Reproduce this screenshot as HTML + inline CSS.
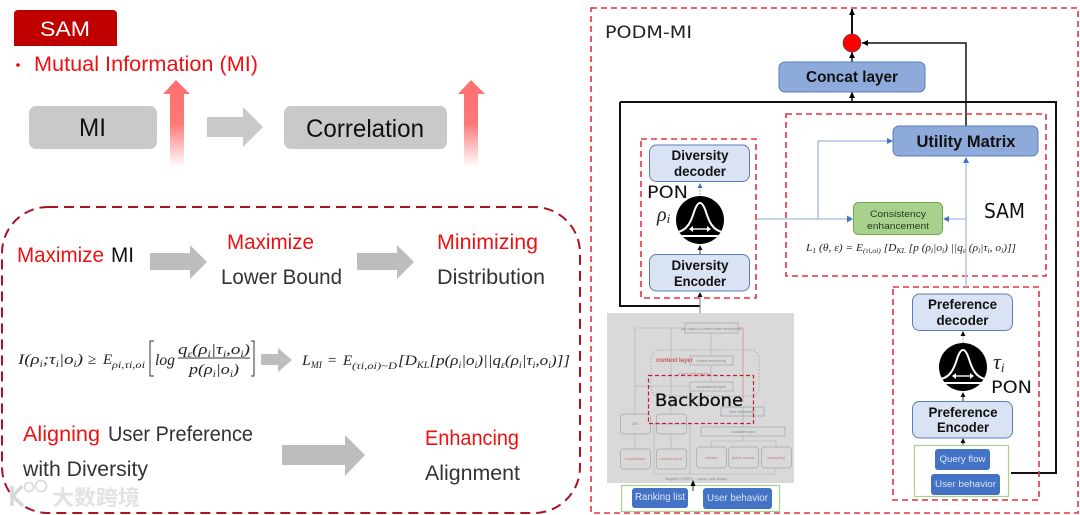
<!DOCTYPE html>
<html><head><meta charset="utf-8"><style>
html,body{margin:0;padding:0;background:#fff}
svg{display:block;filter:blur(.35px)}
text{font-family:"Liberation Sans",sans-serif}
.m{font-family:"Liberation Serif",serif;font-style:italic;fill:#222}
.w{font-family:"DejaVu Sans",sans-serif}
.b{font-weight:bold;fill:#111;text-anchor:middle}
.s{font-size:3.5px;fill:#888;text-anchor:middle}
.r{font-size:3.5px;fill:#c77;text-anchor:middle}
.g{fill:none;stroke:#a5a5a5;stroke-width:.7}
.gl{fill:none;stroke:#adadad;stroke-width:.6}
</style></head><body>
<svg width="1080" height="515" viewBox="0 0 1080 515" xmlns="http://www.w3.org/2000/svg">
<defs>
<linearGradient id="up" x1="0" y1="0" x2="0" y2="1"><stop offset="0" stop-color="#ff7070"/><stop offset=".5" stop-color="#ff7878"/><stop offset="1" stop-color="#fff"/></linearGradient>
<marker id="ak" markerUnits="userSpaceOnUse" markerWidth="7" markerHeight="7" refX="6" refY="3" orient="auto"><path d="M0 0L6 3L0 6z" fill="#000"/></marker>
<clipPath id="cc"><circle r="24"/></clipPath>
<g id="bell"><circle r="24" fill="#000"/><g clip-path="url(#cc)"><path d="M-22 12C-13 10-9 2-6-8C-4-14-2-17 0-17C2-17 4-14 6-8C9 2 13 10 22 12" fill="none" stroke="#fff" stroke-width="2"/><path d="M-24 16H24" stroke="#fff" stroke-width="2"/></g><path d="M-8 9H8" stroke="#fff" stroke-width="1.4"/><path d="M-11 9l4-3v6zM11 9l-4-3v6z" fill="#fff"/></g>
</defs>
<rect width="1080" height="515" fill="#fff"/>

<!-- LEFT -->
<path d="M14 46V14a4 4 0 0 1 4-4H113a4 4 0 0 1 4 4V46z" fill="#c00000"/>
<text x="40" y="36" font-size="21" fill="#fff" textLength="50" lengthAdjust="spacingAndGlyphs">SAM</text>
<circle cx="18" cy="65" r="1.8" fill="#f00000"/>
<text x="34" y="71" font-size="21" fill="#ee1111" textLength="224" lengthAdjust="spacingAndGlyphs">Mutual Information (MI)</text>
<rect x="29" y="106" width="128" height="43" rx="7" fill="#c9c9c9"/>
<text x="79" y="136" font-size="25" fill="#111" textLength="27" lengthAdjust="spacingAndGlyphs">MI</text>
<rect x="284" y="106" width="163" height="43" rx="7" fill="#c9c9c9"/>
<text x="306" y="137" font-size="25" fill="#111" textLength="118" lengthAdjust="spacingAndGlyphs">Correlation</text>
<path d="M207 117H243V107L263 127L243 147V137H207z" fill="#c9c9c9"/>
<path d="M176 80L190 94H184V167H170V94H163z" fill="url(#up)"/>
<path d="M471 80L485 94H478V167H464V94H458z" fill="url(#up)"/>

<path d="M48 207H534A46 46 0 0 1 580 253V467A46 46 0 0 1 534 513H48A46 46 0 0 1 2 467V253A46 46 0 0 1 48 207Z" fill="none" stroke="#a8141f" stroke-width="2" stroke-dasharray="10 6" stroke-linecap="butt"/>

<text x="17" y="262" font-size="21" fill="#ee1111" textLength="87" lengthAdjust="spacingAndGlyphs">Maximize</text>
<text x="111" y="262" font-size="21" fill="#111" textLength="23" lengthAdjust="spacingAndGlyphs">MI</text>
<path d="M150 253H190V245L207 262L190 279V270H150z" fill="#bdbdbd"/>
<text x="227" y="249" font-size="21" fill="#ee1111" textLength="87" lengthAdjust="spacingAndGlyphs">Maximize</text>
<text x="221" y="284" font-size="21" fill="#333" textLength="121" lengthAdjust="spacingAndGlyphs">Lower Bound</text>
<path d="M357 253H397V245L414 262L397 279V270H357z" fill="#bdbdbd"/>
<text x="437" y="249" font-size="21" fill="#ee1111" textLength="101" lengthAdjust="spacingAndGlyphs">Minimizing</text>
<text x="437" y="284" font-size="21" fill="#333" textLength="108" lengthAdjust="spacingAndGlyphs">Distribution</text>

<!-- formula 1 -->
<text class="m" x="18" y="364" font-size="15" textLength="65" lengthAdjust="spacingAndGlyphs">I(ρ<tspan font-size="9" dy="3">i</tspan><tspan dy="-3">;τ</tspan><tspan font-size="9" dy="3">i</tspan><tspan dy="-3">|o</tspan><tspan font-size="9" dy="3">i</tspan><tspan dy="-3">)</tspan></text>
<text class="m" x="88" y="364" font-size="15" style="font-style:normal">≥</text>
<text class="m" x="103" y="364" font-size="15">E</text>
<text class="m" x="112" y="368" font-size="9" textLength="33" lengthAdjust="spacingAndGlyphs">ρi,τi,oi</text>
<path d="M154 341H150V376H154M251 341H254V376H251" fill="none" stroke="#333" stroke-width="1"/>
<text class="m" x="155" y="365" font-size="15.500" textLength="20" lengthAdjust="spacingAndGlyphs">log</text>
<text class="m" x="178" y="354" font-size="14.500" textLength="72" lengthAdjust="spacingAndGlyphs">q<tspan font-size="9" dy="3">ε</tspan><tspan dy="-3">(ρ</tspan><tspan font-size="9" dy="3">i</tspan><tspan dy="-3">|τ</tspan><tspan font-size="9" dy="3">i</tspan><tspan dy="-3">,o</tspan><tspan font-size="9" dy="3">i</tspan><tspan dy="-3">)</tspan></text>
<path d="M178 358H250" stroke="#333" stroke-width=".9"/>
<text class="m" x="189" y="374" font-size="14.500" textLength="50" lengthAdjust="spacingAndGlyphs">p(ρ<tspan font-size="9" dy="3">i</tspan><tspan dy="-3">|o</tspan><tspan font-size="9" dy="3">i</tspan><tspan dy="-3">)</tspan></text>
<path d="M261 354H278V348L292 360L278 372V365H261z" fill="#bdbdbd"/>
<!-- formula 2 -->
<text class="m" x="302" y="365" font-size="15" textLength="20" lengthAdjust="spacingAndGlyphs">L<tspan font-size="9" dy="3">MI</tspan></text>
<text class="m" x="328" y="365" font-size="15" style="font-style:normal">=</text>
<text class="m" x="343" y="365" font-size="15">E</text>
<text class="m" x="352" y="369" font-size="9" textLength="45" lengthAdjust="spacingAndGlyphs">(τi,oi)~D</text>
<text class="m" x="398" y="365" font-size="15" textLength="172" lengthAdjust="spacingAndGlyphs">[D<tspan font-size="9" dy="3">KL</tspan><tspan dy="-3">[p(ρ</tspan><tspan font-size="9" dy="3">i</tspan><tspan dy="-3">|o</tspan><tspan font-size="9" dy="3">i</tspan><tspan dy="-3">)||q</tspan><tspan font-size="9" dy="3">ε</tspan><tspan dy="-3">(ρ</tspan><tspan font-size="9" dy="3">i</tspan><tspan dy="-3">|τ</tspan><tspan font-size="9" dy="3">i</tspan><tspan dy="-3">,o</tspan><tspan font-size="9" dy="3">i</tspan><tspan dy="-3">)]]</tspan></text>

<text x="23" y="441" font-size="21" fill="#ee1111" textLength="77" lengthAdjust="spacingAndGlyphs">Aligning</text>
<text x="108" y="441" font-size="21" fill="#333" textLength="145" lengthAdjust="spacingAndGlyphs">User Preference</text>
<text x="23" y="476" font-size="21" fill="#333" textLength="125" lengthAdjust="spacingAndGlyphs">with Diversity</text>
<path d="M282 445H345V435L365 455L345 476V465H282z" fill="#bdbdbd"/>
<text x="425" y="445" font-size="21" fill="#ee1111" textLength="94" lengthAdjust="spacingAndGlyphs">Enhancing</text>
<text x="425" y="480" font-size="21" fill="#333" textLength="95" lengthAdjust="spacingAndGlyphs">Alignment</text>

<!-- watermark -->
<g>
<path d="M12 486V506M13 496L22 486M14 497L23 506" fill="none" stroke="#d8d8d8" stroke-width="3.500"/>
<circle cx="29" cy="487" r="4.500" fill="none" stroke="#d8d8d8" stroke-width="1.600"/>
<circle cx="41" cy="486" r="5.500" fill="none" stroke="#d8d8d8" stroke-width="1.600"/>
<text x="52" y="505" font-size="21" fill="#e2e2e2" font-weight="bold" style="font-family:'Liberation Sans','Noto Sans CJK SC',sans-serif" textLength="88" lengthAdjust="spacingAndGlyphs">大数跨境</text>
</g>

<!-- RIGHT -->
<rect x="591" y="8" width="487" height="505" fill="none" stroke="#e5323c" stroke-width="1.600" stroke-dasharray="6 4"/>
<text class="w" x="605" y="38" font-size="17" fill="#222" textLength="87" lengthAdjust="spacingAndGlyphs">PODM-MI</text>

<path d="M620 102V306H700" fill="none" stroke="#111" stroke-width="2"/>
<path d="M620 102H1056V473H1011" fill="none" stroke="#111" stroke-width="2"/>
<path d="M852 102V92" stroke="#111" stroke-width="1.500" marker-end="url(#ak)"/>
<path d="M852 62V52" stroke="#111" stroke-width="1.500" marker-end="url(#ak)"/>
<path d="M852 34V9" stroke="#111" stroke-width="2" marker-end="url(#ak)"/>
<path d="M966 127V43H862" fill="none" stroke="#111" stroke-width="1.500" marker-end="url(#ak)"/>
<circle cx="852" cy="43" r="9" fill="#f00" stroke="#555" stroke-width=".8"/>

<rect x="779" y="62" width="146" height="30" rx="6" fill="#8eaadb" stroke="#5b7db5" stroke-width="1"/>
<text class="b" x="852" y="82" font-size="16" textLength="92" lengthAdjust="spacingAndGlyphs">Concat layer</text>

<rect x="786" y="114" width="260" height="162" fill="none" stroke="#e5323c" stroke-width="1.600" stroke-dasharray="6 4"/>
<rect x="641" y="139" width="115" height="159" fill="none" stroke="#e5323c" stroke-width="1.600" stroke-dasharray="6 4"/>
<rect x="893" y="287" width="146" height="213" fill="none" stroke="#e5323c" stroke-width="1.600" stroke-dasharray="6 4"/>

<!-- blue lines -->
<path d="M757 219H848" stroke="#b4c9e8" stroke-width="1.600"/><path d="M853 219l-6-3.500v7z" fill="#4472c4"/>
<path d="M818 219V141H888" fill="none" stroke="#7da0d6" stroke-width="1"/><path d="M893 141l-6-3v6z" fill="#4472c4"/>
<path d="M966 287V162" stroke="#b4c9e8" stroke-width="1.600"/><path d="M966 157l-3 6h6z" fill="#4472c4"/>
<path d="M966 219H948" stroke="#b4c9e8" stroke-width="1.600"/><path d="M943 219l6-3v6z" fill="#4472c4"/>

<rect x="893" y="126" width="145" height="30" rx="6" fill="#8eaadb" stroke="#5b7db5" stroke-width="1"/>
<text class="b" x="966" y="147" font-size="17" textLength="99" lengthAdjust="spacingAndGlyphs">Utility Matrix</text>
<rect x="853.500" y="202.500" width="89" height="32" rx="5" fill="#a9d18e" stroke="#70ad47" stroke-width="1"/>
<text x="898" y="217" font-size="9.500" fill="#1f3a1f" text-anchor="middle" textLength="56" lengthAdjust="spacingAndGlyphs">Consistency</text>
<text x="898" y="229" font-size="9.500" fill="#1f3a1f" text-anchor="middle" textLength="62" lengthAdjust="spacingAndGlyphs">enhancement</text>
<text class="m" x="806" y="251" font-size="10.500" textLength="210" lengthAdjust="spacingAndGlyphs">L<tspan font-size="7" dy="2">1</tspan><tspan dy="-2"> (θ, ε) = E</tspan><tspan font-size="7" dy="2">(τi,oi)</tspan><tspan dy="-2"> [D</tspan><tspan font-size="7" dy="2">KL</tspan><tspan dy="-2"> [p (ρ</tspan><tspan font-size="7" dy="2">i</tspan><tspan dy="-2">|o</tspan><tspan font-size="7" dy="2">i</tspan><tspan dy="-2">) ||q</tspan><tspan font-size="7" dy="2">ε</tspan><tspan dy="-2"> (ρ</tspan><tspan font-size="7" dy="2">i</tspan><tspan dy="-2">|τ</tspan><tspan font-size="7" dy="2">i</tspan><tspan dy="-2">, o</tspan><tspan font-size="7" dy="2">i</tspan><tspan dy="-2">)]]</tspan></text>
<text class="w" x="984" y="218" font-size="20" fill="#111" textLength="41" lengthAdjust="spacingAndGlyphs">SAM</text>

<!-- diversity -->
<rect x="649.500" y="145" width="100" height="36.500" rx="7" fill="#dae3f3" stroke="#5b7db5" stroke-width="1"/>
<text class="b" x="700" y="160" font-size="14" textLength="57" lengthAdjust="spacingAndGlyphs">Diversity</text>
<text class="b" x="700" y="176" font-size="14" textLength="52" lengthAdjust="spacingAndGlyphs">decoder</text>
<rect x="649.500" y="254.500" width="100" height="36.500" rx="7" fill="#dae3f3" stroke="#5b7db5" stroke-width="1"/>
<text class="b" x="700" y="270" font-size="14" textLength="57" lengthAdjust="spacingAndGlyphs">Diversity</text>
<text class="b" x="700" y="286" font-size="14" textLength="52" lengthAdjust="spacingAndGlyphs">Encoder</text>
<path d="M700 195V187" stroke="#aaa" stroke-width="1" stroke-dasharray="2 1"/><path d="M700 183l-2.500 5h5z" fill="#4472c4"/>
<path d="M700 254V249" stroke="#333"/><path d="M700 245l-2.500 5h5z" fill="#111"/>
<path d="M700 313V298" stroke="#777"/><path d="M700 292l-2.500 5h5z" fill="#111"/>
<use href="#bell" x="700" y="220"/>
<text class="w" x="647" y="198" font-size="16.500" fill="#111" textLength="41" lengthAdjust="spacingAndGlyphs">PON</text>
<text class="m" x="657" y="221" font-size="20" fill="#111">ρ<tspan font-size="13" dy="2">i</tspan></text>

<!-- preference -->
<rect x="912.500" y="294" width="100" height="36.500" rx="7" fill="#dae3f3" stroke="#5b7db5" stroke-width="1"/>
<text class="b" x="962.500" y="309" font-size="14" textLength="69" lengthAdjust="spacingAndGlyphs">Preference</text>
<text class="b" x="962.500" y="325" font-size="14" textLength="52" lengthAdjust="spacingAndGlyphs">decoder</text>
<rect x="912.500" y="401.500" width="100" height="36.500" rx="7" fill="#dae3f3" stroke="#5b7db5" stroke-width="1"/>
<text class="b" x="963" y="417" font-size="14" textLength="69" lengthAdjust="spacingAndGlyphs">Preference</text>
<text class="b" x="963" y="432" font-size="14" textLength="52" lengthAdjust="spacingAndGlyphs">Encoder</text>
<path d="M963 343V336" stroke="#aaa" stroke-width="1" stroke-dasharray="2 1"/><path d="M963 331l-2.500 5h5z" fill="#111"/>
<path d="M963 401V396" stroke="#333"/><path d="M963 392l-2.500 5h5z" fill="#111"/>
<path d="M963 445V442" stroke="#333"/><path d="M963 438l-2.500 5h5z" fill="#111"/>
<use href="#bell" x="963" y="367"/>
<text class="m" x="993" y="369" font-size="22" fill="#111">τ<tspan font-size="13" dy="3">i</tspan></text>
<text class="w" x="991" y="393" font-size="16.500" fill="#111" textLength="41" lengthAdjust="spacingAndGlyphs">PON</text>

<rect x="914.500" y="445.500" width="94" height="51" fill="#fff" stroke="#a9d18e" stroke-width="1.200"/>
<rect x="935" y="449" width="55" height="21" rx="3" fill="#4472c4"/>
<text x="962.500" y="462" font-size="9.500" fill="#dbe6f7" text-anchor="middle" textLength="46" lengthAdjust="spacingAndGlyphs">Query flow</text>
<rect x="931" y="474" width="69" height="21" rx="3" fill="#4472c4"/>
<text x="965.500" y="487" font-size="9.500" fill="#dbe6f7" text-anchor="middle" textLength="61" lengthAdjust="spacingAndGlyphs">User behavior</text>

<!-- backbone panel -->
<rect x="607" y="313" width="187" height="170" fill="#d9d9d9"/>
<path d="M635 414V328H685M671 414V328M635 386H690M635 449V434M671 449V434M711 333V356M711 365V382M743 407V427M711 447V441H776V447M743 441V436M654 474V424H690M654 474H775V468M690 424V474" class="gl"/>
<rect x="685" y="323" width="53" height="10" class="g"/><text class="s" x="711" y="330">pre-output &amp; context token embedding</text>
<rect x="651" y="350" width="108" height="46" rx="8" fill="none" stroke="#a5a5a5" stroke-width=".7" stroke-dasharray="2 1.500"/>
<text x="656" y="362" font-size="6" fill="#c45a5a" font-weight="bold">context layer</text>
<rect x="690" y="356" width="43" height="9" class="g"/><text class="s" x="711" y="362">context embedding</text>
<text class="r" x="694" y="375">n-layer Self-attention</text>
<rect x="690" y="382" width="43" height="9" class="g"/><text class="s" x="711" y="388">candidate list input</text>
<rect x="721" y="407" width="43" height="9" fill="none" stroke="#8fa3b8" stroke-width=".7"/><text class="s" x="742" y="413">item embedding</text>
<rect x="701" y="427" width="84" height="9" class="g"/><text class="s" x="743" y="433">candidate input</text>
<rect x="620.500" y="414" width="30" height="20" rx="3" class="g"/><text class="r" x="635" y="425">DIN</text>
<rect x="656.500" y="414" width="30" height="20" rx="3" class="g"/>
<rect x="620.500" y="449" width="30" height="20" rx="3" class="g"/><text class="r" x="635" y="460">hoodDiehave</text>
<rect x="656.500" y="449" width="30" height="20" rx="3" class="g"/><text class="r" x="671" y="460">common behav</text>
<rect x="696.500" y="447" width="30" height="21" rx="3" class="g"/><text class="r" x="711" y="459">numeric</text>
<rect x="728.500" y="447" width="30" height="21" rx="3" class="g"/><text class="r" x="743" y="459">global numeric</text>
<rect x="761.500" y="447" width="30" height="21" rx="3" class="g"/><text class="r" x="776" y="459">embedding</text>
<path d="M738 328H743V402" fill="none" stroke="#d98a8a" stroke-width=".8"/>
<text class="s" x="696" y="480">Target(H,0,P,REF) ... query, rank display</text>
<rect x="648.500" y="375.500" width="105" height="48" fill="none" stroke="#c0202c" stroke-width="1.200" stroke-dasharray="4 2.500"/>
<text class="w" x="655" y="406" font-size="16.500" fill="#111" stroke="#111" stroke-width=".3" textLength="88" lengthAdjust="spacingAndGlyphs">Backbone</text>

<rect x="621.500" y="485.500" width="158" height="26" fill="#fff" stroke="#a9d18e" stroke-width="1.200"/>
<path d="M693 491V482" stroke="#333"/><path d="M693 480l-2.500 6h5z" fill="#000"/>
<rect x="632" y="488" width="56" height="20" rx="3" fill="#4472c4"/>
<text x="660" y="500" font-size="10" fill="#dbe6f7" text-anchor="middle" textLength="50" lengthAdjust="spacingAndGlyphs">Ranking list</text>
<rect x="703" y="488" width="69" height="21" rx="3" fill="#4472c4"/>
<text x="737.500" y="501" font-size="10" fill="#dbe6f7" text-anchor="middle" textLength="61" lengthAdjust="spacingAndGlyphs">User behavior</text>
</svg>
</body></html>
